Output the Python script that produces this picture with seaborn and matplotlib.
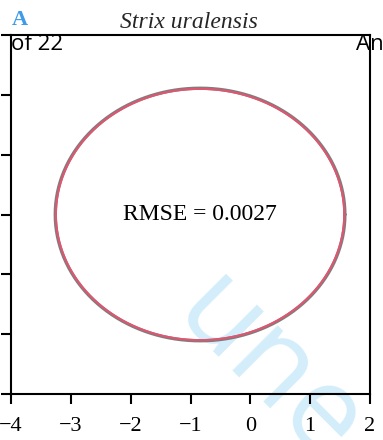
import numpy as np
import pandas as pd
import matplotlib
matplotlib.use("Agg")
import matplotlib.pyplot as plt
import seaborn as sns

# ---- data ----
species = "Strix uralensis"
panel_label = "A"
rmse_text = "RMSE = 0.0027"
egg_center = [-0.84, 0.0]          # centre of the egg outline (x, y)
observed_semi_axes = [2.42, 2.11]  # observed outline half-length, half-breadth
fitted_semi_axes = [2.41, 2.10]    # fitted model half-length, half-breadth
x_ticks = [-4, -3, -2, -1, 0, 1, 2]
x_tick_labels = ["\u22124", "\u22123", "\u22122", "\u22121", "0", "1", "2"]
y_ticks = [-3, -2, -1, 0, 1, 2, 3]

theta = np.linspace(0, 2 * np.pi, 721)


def outline(semi, label):
    return pd.DataFrame({
        "x": egg_center[0] + semi[0] * np.cos(theta),
        "y": egg_center[1] + semi[1] * np.sin(theta),
        "curve": label,
    })


df_obs = outline(observed_semi_axes, "observed")
df_fit = outline(fitted_semi_axes, "fitted")

sns.set_style("ticks")
plt.rcParams["font.family"] = ["Liberation Serif", "DejaVu Serif"]

W, H = 383, 440
fig = plt.figure(figsize=(W / 100, H / 100), dpi=100)
ax = fig.add_axes([11 / W, 1 - 394 / H, 359 / W, 359 / H])
ax.set_facecolor("none")

# watermark behind everything
fig.text(268 / W, 1 - 372 / H, "une", fontsize=86, color="#d3edfb",
         family="Open Sans", rotation=-45, ha="center", va="center",
         zorder=-5)

sns.lineplot(data=df_obs, x="x", y="y", sort=False, estimator=None,
             color="#7d7d7d", linewidth=2.4, ax=ax, legend=False)
sns.lineplot(data=df_fit, x="x", y="y", sort=False, estimator=None,
             color="#e05670", linewidth=1.5, ax=ax, legend=False)

ax.text(egg_center[0], egg_center[1], rmse_text, fontsize=17,
        ha="center", va="center", color="black")

ax.set_xlim(-4, 2)
ax.set_ylim(-3, 3)
ax.set_xticks(x_ticks)
ax.set_xticklabels(x_tick_labels)
ax.set_yticks(y_ticks)
ax.set_xlabel("")
ax.set_ylabel("")
ax.tick_params(axis="x", direction="out", length=7.5, width=1.5,
               labelsize=16, pad=9, colors="black")
ax.tick_params(axis="y", direction="out", length=7.5, width=1.5,
               labelleft=False, colors="black")
for s in ax.spines.values():
    s.set_linewidth(1.5)
    s.set_color("black")
    s.set_visible(True)

fig.text(189 / W, 1 - 28 / H, species, fontsize=17, style="italic",
         ha="center", va="baseline")
fig.text(12 / W, 1 - 25 / H, panel_label, fontsize=16, weight="bold",
         color="#3d9be9", ha="left", va="baseline")

# page header fragments
fig.text(63 / W, 1 - 50 / H, "of 22", fontsize=16, family="Open Sans",
         ha="right", va="baseline", color="black")
fig.text(356 / W, 1 - 50 / H, "An", fontsize=16, family="Open Sans",
         ha="left", va="baseline", color="black")

fig.savefig("out.png", dpi=100)
